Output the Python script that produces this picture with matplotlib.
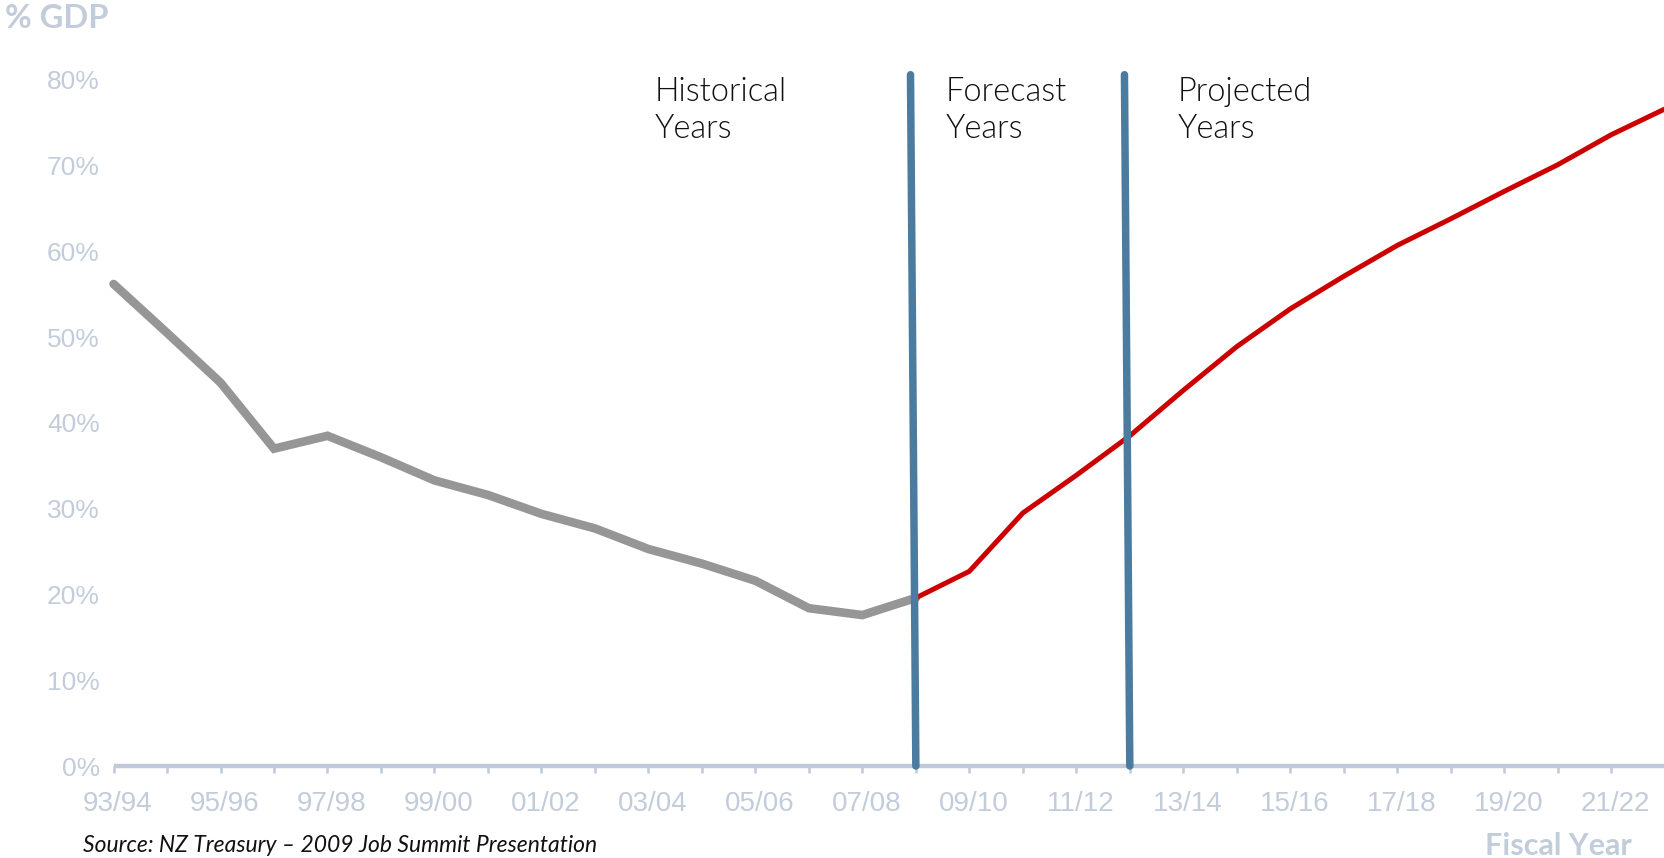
import matplotlib
matplotlib.use("Agg")
import matplotlib.pyplot as plt
import matplotlib.transforms as mtransforms
from matplotlib import font_manager

# ---- data ----
years = ["93/94", "94/95", "95/96", "96/97", "97/98", "98/99", "99/00", "00/01",
         "01/02", "02/03", "03/04", "04/05", "05/06", "06/07", "07/08", "08/09",
         "09/10", "10/11", "11/12", "12/13", "13/14", "14/15", "15/16", "16/17",
         "17/18", "18/19", "19/20", "20/21", "21/22", "22/23"]
historical = [56.2, 50.5, 44.7, 37.0, 38.5, 36.0, 33.3, 31.6, 29.4, 27.7,
              25.3, 23.6, 21.6, 18.4, 17.6, 19.6]          # 93/94 .. 08/09
forecast = [19.6, 22.7, 29.5, 33.9, 38.5, 43.8, 48.9, 53.3, 57.1, 60.7,
            63.8, 67.0, 70.1, 73.6, 76.6]                  # 08/09 .. 22/23
y_ticks = [0, 10, 20, 30, 40, 50, 60, 70, 80]
y_tick_labels = ["0%", "10%", "20%", "30%", "40%", "50%", "60%", "70%", "80%"]
dividers = ["08/09", "12/13"]
period_labels = ["Historical\nYears", "Forecast\nYears", "Projected\nYears"]

avail = {f.name for f in font_manager.fontManager.ttflist}
narrow = "Liberation Sans Narrow" if "Liberation Sans Narrow" in avail else "Liberation Sans"
main_font = "Lato"

AX_COL = "#BFC9D9"
TXT_COL = "#C3CCDA"

fig = plt.figure(figsize=(16.65, 8.58), dpi=100)
ax = fig.add_axes([0.0682, 0.1072, 0.9316, 0.8497])

xi = list(range(len(years)))
hist_x = xi[:len(historical)]
fc_x = xi[len(historical) - 1:]

ax.plot(hist_x, historical, color="#969696", lw=6.2, solid_capstyle="round",
        solid_joinstyle="miter", zorder=3, clip_on=False)
ax.plot(fc_x, forecast, color="#CC0000", lw=3.6, solid_capstyle="butt",
        solid_joinstyle="miter", zorder=3, clip_on=False)

for d in dividers:
    ax.plot([years.index(d) - 0.1, years.index(d)], [80.6, 0], color="#4B7CA0",
            lw=5.4, solid_capstyle="round", zorder=4, clip_on=False)

ax.set_xlim(0, len(years) - 1)
ax.set_ylim(0, 85)

for s in ["top", "right", "left"]:
    ax.spines[s].set_visible(False)
ax.spines["bottom"].set_color(AX_COL)
ax.spines["bottom"].set_linewidth(3.2)
ax.spines["bottom"].set_capstyle("butt")

ax.set_xticks(xi)
ax.set_xticklabels([y if i % 2 == 0 else "" for i, y in enumerate(years)],
                   fontfamily=narrow, fontsize=20, color=TXT_COL)
ax.tick_params(axis="x", direction="out", length=5, width=1.8, color=AX_COL, pad=13)
shift = mtransforms.ScaledTranslation(4 / 100, 0, fig.dpi_scale_trans)
for lbl in ax.get_xticklabels():
    lbl.set_transform(lbl.get_transform() + shift)

ax.set_yticks(y_ticks)
ax.set_yticklabels(y_tick_labels, fontfamily="Liberation Sans", fontsize=19, color=TXT_COL)
ax.tick_params(axis="y", length=0, pad=10)

# period annotations
label_x = [655, 946, 1178]
for lx, txt in zip(label_x, period_labels):
    fig.text(lx / 1665, 1 - 77 / 858, txt, fontfamily=main_font, fontweight=300,
             fontsize=23.5, color="#111111", va="top", ha="left", linespacing=1.3)

fig.text(5 / 1665, 1 - 18 / 858, "% GDP", fontfamily=main_font, fontweight="bold",
         fontsize=23.5, color=TXT_COL, va="center", ha="left")
fig.text(1632 / 1665, 1 - 846 / 858, "Fiscal Year", fontfamily=main_font, fontweight="bold",
         fontsize=22, color=TXT_COL, va="center", ha="right")
fig.text(83 / 1665, 1 - 846 / 858, "Source: NZ Treasury \u2013 2009 Job Summit Presentation",
         fontfamily=main_font, fontstyle="italic", fontsize=16.5, color="#111111",
         va="center", ha="left")

fig.savefig("out.png", dpi=100, facecolor="white")
